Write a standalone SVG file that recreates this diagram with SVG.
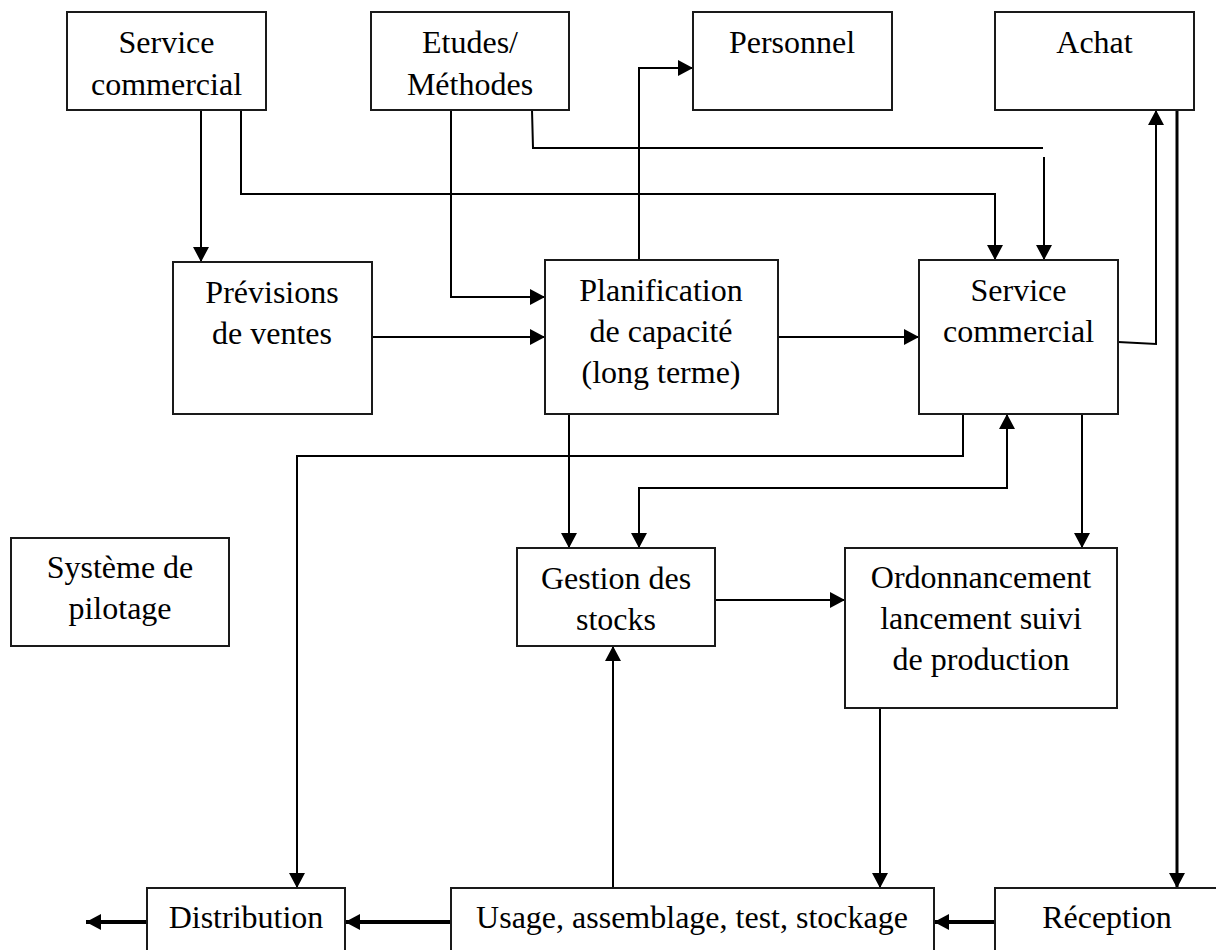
<svg xmlns="http://www.w3.org/2000/svg" width="1216" height="950" viewBox="0 0 1216 950">
  <style>
    .box { fill: #ffffff; stroke: #1a1a1a; stroke-width: 2; }
    .lbl { font-size: 32px; fill: #000000; text-anchor: middle; }
    .wire { fill: none; stroke: #000000; stroke-width: 2; stroke-linejoin: miter; }
    .thick { fill: none; stroke: #000000; stroke-width: 4; }
    .mid { fill: none; stroke: #000000; stroke-width: 3; }
  </style>
  <defs>
    <marker id="arrow" markerUnits="userSpaceOnUse" viewBox="0 0 15 16" markerWidth="15" markerHeight="16" refX="15" refY="8" orient="auto">
      <path d="M0,0 L15,8 L0,16 z" fill="#000000"/>
    </marker>
    <marker id="arrowStart" markerUnits="userSpaceOnUse" viewBox="0 0 15 16" markerWidth="15" markerHeight="16" refX="0" refY="8" orient="auto">
      <path d="M15,0 L0,8 L15,16 z" fill="#000000"/>
    </marker>
  </defs>
  <rect width="1216" height="950" fill="#ffffff"/>

  <!-- connectors -->
  <g id="connectors">
    <path class="wire" d="M201,110 V262" marker-end="url(#arrow)"/>
    <path class="wire" d="M241,110 V194 H995 V260" marker-end="url(#arrow)"/>
    <path class="wire" d="M451,110 V297 H545" marker-end="url(#arrow)"/>
    <path class="wire" d="M532,110 L533,148 H1043"/>
    <path class="wire" d="M1044,157 V260" marker-end="url(#arrow)"/>
    <path class="wire" d="M639,260 V68 H693" marker-end="url(#arrow)"/>
    <path class="wire" d="M372,337 H545" marker-end="url(#arrow)"/>
    <path class="wire" d="M778,337 H919" marker-end="url(#arrow)"/>
    <path class="wire" d="M1118,342 L1156,344 V110" marker-end="url(#arrow)"/>
    <path class="mid" d="M1177,110 V888" marker-end="url(#arrow)"/>
    <path class="wire" d="M963,414 V456 H297 V888" marker-end="url(#arrow)"/>
    <path class="wire" d="M639,548 V488 H1007 V414" marker-start="url(#arrowStart)" marker-end="url(#arrow)"/>
    <path class="wire" d="M569,414 V548" marker-end="url(#arrow)"/>
    <path class="wire" d="M1082,414 V548" marker-end="url(#arrow)"/>
    <path class="wire" d="M715,600 H845" marker-end="url(#arrow)"/>
    <path class="wire" d="M613,888 V646" marker-end="url(#arrow)"/>
    <path class="wire" d="M880,708 V888" marker-end="url(#arrow)"/>
    <path class="thick" d="M451,922 H345" marker-end="url(#arrow)"/>
    <path class="thick" d="M995,922 H934" marker-end="url(#arrow)"/>
    <path class="thick" d="M147,922 H86" marker-end="url(#arrow)"/>
  </g>

  <g font-family="Liberation Serif, Nimbus Roman, Nimbus Roman No9 L, FreeSerif, Noto Serif, DejaVu Serif, Times, serif">
  <!-- top row -->
  <g id="service-commercial-top">
    <rect class="box" x="67" y="12" width="199" height="98"/>
    <text class="lbl" x="166.5" y="53">Service</text>
    <text class="lbl" x="166.5" y="95">commercial</text>
  </g>
  <g id="etudes-methodes">
    <rect class="box" x="371" y="12" width="198" height="98"/>
    <text class="lbl" x="470" y="53">Etudes/</text>
    <text class="lbl" x="470" y="95">Méthodes</text>
  </g>
  <g id="personnel">
    <rect class="box" x="693" y="12" width="199" height="98"/>
    <text class="lbl" x="792" y="53">Personnel</text>
  </g>
  <g id="achat">
    <rect class="box" x="995" y="12" width="199" height="98"/>
    <text class="lbl" x="1094.5" y="53">Achat</text>
  </g>

  <!-- planning row -->
  <g id="previsions-ventes">
    <rect class="box" x="173" y="262" width="199" height="152"/>
    <text class="lbl" x="272" y="303">Prévisions</text>
    <text class="lbl" x="272" y="344">de ventes</text>
  </g>
  <g id="planification-capacite">
    <rect class="box" x="545" y="260" width="233" height="154"/>
    <text class="lbl" x="661" y="301">Planification</text>
    <text class="lbl" x="661" y="342">de capacité</text>
    <text class="lbl" x="661" y="383">(long terme)</text>
  </g>
  <g id="service-commercial">
    <rect class="box" x="919" y="260" width="199" height="154"/>
    <text class="lbl" x="1018.5" y="301">Service</text>
    <text class="lbl" x="1018.5" y="342">commercial</text>
  </g>

  <!-- control row -->
  <g id="systeme-pilotage">
    <rect class="box" x="11" y="538" width="218" height="108"/>
    <text class="lbl" x="120" y="578">Système de</text>
    <text class="lbl" x="120" y="619">pilotage</text>
  </g>
  <g id="gestion-stocks">
    <rect class="box" x="517" y="548" width="198" height="98"/>
    <text class="lbl" x="616" y="589">Gestion des</text>
    <text class="lbl" x="616" y="630">stocks</text>
  </g>
  <g id="ordonnancement">
    <rect class="box" x="845" y="548" width="272" height="160"/>
    <text class="lbl" x="981" y="588">Ordonnancement</text>
    <text class="lbl" x="981" y="629">lancement suivi</text>
    <text class="lbl" x="981" y="670">de production</text>
  </g>

  <!-- physical flow row -->
  <g id="distribution">
    <rect class="box" x="147" y="888" width="198" height="80"/>
    <text class="lbl" x="246" y="928">Distribution</text>
  </g>
  <g id="usage-assemblage">
    <rect class="box" x="451" y="888" width="483" height="80"/>
    <text class="lbl" x="692" y="928">Usage, assemblage, test, stockage</text>
  </g>
  <g id="reception">
    <rect class="box" x="995" y="888" width="224" height="80"/>
    <text class="lbl" x="1107" y="928">Réception</text>
  </g>
  </g>
</svg>
